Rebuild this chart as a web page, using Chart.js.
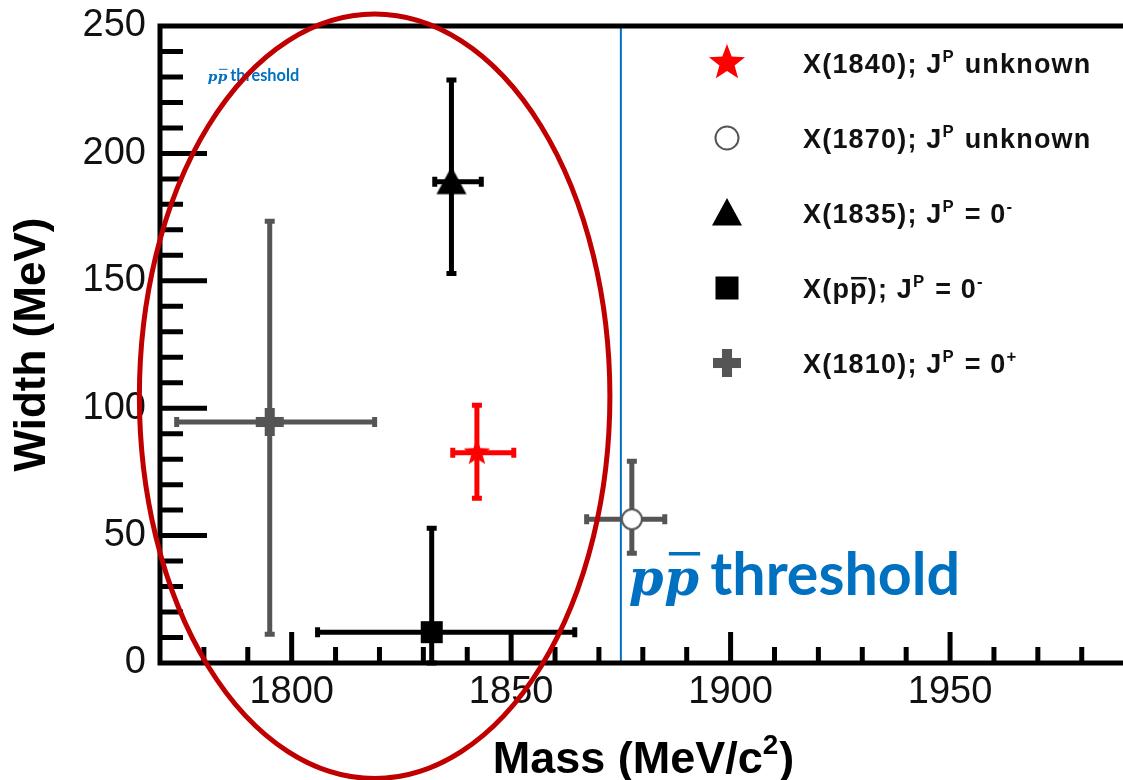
<!DOCTYPE html>
<html>
<head>
<meta charset="utf-8">
<script src="https://cdn.jsdelivr.net/npm/chart.js@4.4.1/dist/chart.umd.min.js"></script>
<style>
  html, body { margin: 0; padding: 0; background: #fff; }
  #wrap { width: 1123px; height: 780px; }
</style>
</head>
<body>
<div id="wrap"><canvas id="c" width="1123" height="780"></canvas></div>
<script>
'use strict';

/* ---- axes ---- */
var xRange      = [1770, 1989.4];
var yRange      = [0, 250];
var xTickLabels = [1800, 1850, 1900, 1950];
var yTickLabels = [0, 50, 100, 150, 200, 250];
var minorStep   = 10;

/* ---- measurements (MeV) ---- */
var mass     = [1842.2, 1877.5, 1836.4, 1831.9, 1795.0];
var massMin  = [1836.7, 1867.2, 1832.6, 1805.9, 1773.8];
var massMax  = [1850.6, 1885.0, 1843.2, 1864.5, 1818.9];
var width    = [82.5, 56.4, 188.9, 12.1, 94.6];
var widthMin = [64.7, 43.1, 152.9, 0, 11.3];
var widthMax = [101.2, 79.2, 228.8, 52.9, 173.4];

var thresholdMass = 1875;
// highlighted region (data units): centre, half-widths
var ringCenter = [1818.9, 104.7];
var ringRadius = [53.6, 150];

/* ---- text, superscripts split out ---- */
var xTitleParts = [{ t: 'Mass (MeV/c' }, { t: '2', sup: 1 }, { t: ')' }];
var legendParts = [
  [{ t: 'X(1840); J' }, { t: 'P', sup: 1 }, { t: ' unknown' }],
  [{ t: 'X(1870); J' }, { t: 'P', sup: 1 }, { t: ' unknown' }],
  [{ t: 'X(1835); J' }, { t: 'P', sup: 1 }, { t: ' = 0' }, { t: '-', sup: 1 }],
  [{ t: 'X(p' }, { t: 'p', over: 1 }, { t: '); J' }, { t: 'P', sup: 1 }, { t: ' = 0' }, { t: '-', sup: 1 }],
  [{ t: 'X(1810); J' }, { t: 'P', sup: 1 }, { t: ' = 0' }, { t: '+', sup: 1 }]
];

var seriesStyle = [
  { marker: 'star',     color: '#ff0000', size: 28, legendSize: 38 },
  { marker: 'circle',   color: '#555555', size: 22, legendSize: 25 },
  { marker: 'triangle', color: '#000000', size: 30, legendSize: 30 },
  { marker: 'square',   color: '#000000', size: 22, legendSize: 23 },
  { marker: 'plus',     color: '#555555', size: 28, legendSize: 28 }
];

var SANS = '"Liberation Sans", Arial, Helvetica, sans-serif';
var BLUE = '#0070c0';

function drawMarker(ctx, kind, x, y, s) {
  ctx.save();
  if (kind === 'star') {
    ctx.fillStyle = '#ff0000';
    ctx.beginPath();
    for (var i = 0; i < 10; i++) {
      var r = i % 2 ? s * 0.21 : s * 0.5;
      var a = -Math.PI / 2 + i * Math.PI / 5;
      if (i) ctx.lineTo(x + r * Math.cos(a), y + r * Math.sin(a));
      else ctx.moveTo(x + r * Math.cos(a), y + r * Math.sin(a));
    }
    ctx.closePath();
    ctx.fill();
  } else if (kind === 'circle') {
    ctx.fillStyle = '#fff';
    ctx.strokeStyle = '#555';
    ctx.lineWidth = 2;
    ctx.beginPath();
    ctx.arc(x, y, s / 2 - 1, 0, Math.PI * 2);
    ctx.fill();
    ctx.stroke();
  } else if (kind === 'triangle') {
    ctx.fillStyle = '#000';
    ctx.beginPath();
    ctx.moveTo(x, y - s * 0.5);
    ctx.lineTo(x + s * 0.5, y + s * 0.42);
    ctx.lineTo(x - s * 0.5, y + s * 0.42);
    ctx.closePath();
    ctx.fill();
  } else if (kind === 'square') {
    ctx.fillStyle = '#000';
    ctx.fillRect(x - s / 2, y - s / 2, s, s);
  } else if (kind === 'plus') {
    var t = s * 0.36;
    ctx.fillStyle = '#555';
    ctx.fillRect(x - s / 2, y - t / 2, s, t);
    ctx.fillRect(x - t / 2, y - s / 2, t, s);
  }
  ctx.restore();
}

function markerCanvas(kind, s) {
  var c = document.createElement('canvas');
  c.width = c.height = s + 4;
  drawMarker(c.getContext('2d'), kind, c.width / 2, c.height / 2, s);
  return c;
}

function richWidth(ctx, parts, size) {
  var w = 0;
  parts.forEach(function (p) {
    ctx.font = 'bold ' + (p.sup ? size * 0.62 : size) + 'px ' + SANS;
    w += ctx.measureText(p.t).width + (p.sup ? 1 : 0);
  });
  return w;
}

function drawRich(ctx, parts, x, y, size) {
  parts.forEach(function (p) {
    var fs = p.sup ? size * 0.62 : size;
    ctx.font = 'bold ' + fs + 'px ' + SANS;
    ctx.fillText(p.t, x, p.sup ? y - size * 0.42 : y);
    var w = ctx.measureText(p.t).width;
    if (p.over) ctx.fillRect(x + 1, y - size * 0.78, w - 2, 2.5);
    x += w + (p.sup ? 1 : 0);
  });
}

// "pp̄ threshold" note, scaled so that the word "threshold" spans thrW px
function drawThresholdNote(ctx, x, y, thrW) {
  ctx.save();
  ctx.fillStyle = BLUE;
  ctx.strokeStyle = BLUE;
  ctx.textBaseline = 'alphabetic';
  ctx.font = 'bold 50px Lato, ' + SANS;
  var fs = 50 * thrW / ctx.measureText('threshold').width;
  ctx.font = 'italic bold ' + fs * 0.84 + 'px "DejaVu Serif", "Liberation Serif", serif';
  var pw = ctx.measureText('p').width;
  ctx.fillText('p', x, y);
  ctx.fillText('p', x + pw * 1.02, y);
  ctx.lineWidth = Math.max(1, fs * 0.06);
  ctx.beginPath();
  ctx.moveTo(x + pw * 1.15, y - fs * 0.7);
  ctx.lineTo(x + pw * 2.05, y - fs * 0.7);
  ctx.stroke();
  ctx.font = 'bold ' + fs + 'px Lato, ' + SANS;
  ctx.fillText('threshold', x + pw * 2.0 + fs * 0.2, y);
  ctx.restore();
}

var framePlugin = {
  id: 'frame',
  beforeDatasetsDraw: function (chart) {
    var ctx = chart.ctx, a = chart.chartArea;
    var xs = chart.scales.x, ys = chart.scales.y;
    ctx.save();

    // threshold line
    var tx = xs.getPixelForValue(thresholdMass);
    ctx.strokeStyle = BLUE;
    ctx.lineWidth = 2;
    ctx.beginPath();
    ctx.moveTo(tx, a.top);
    ctx.lineTo(tx, a.bottom);
    ctx.stroke();

    // frame: left, bottom, top
    ctx.strokeStyle = '#000';
    ctx.lineWidth = 5;
    ctx.lineCap = 'square';
    ctx.beginPath();
    ctx.moveTo(a.right + 5, a.top);
    ctx.lineTo(a.left, a.top);
    ctx.lineTo(a.left, a.bottom);
    ctx.lineTo(a.right + 5, a.bottom);
    ctx.stroke();

    // inward ticks
    ctx.lineCap = 'butt';
    ctx.beginPath();
    var v, p, major;
    for (v = Math.ceil(xRange[0] / minorStep) * minorStep; v <= xRange[1]; v += minorStep) {
      if (v === xRange[0]) continue;
      major = xTickLabels.indexOf(v) >= 0;
      p = xs.getPixelForValue(v);
      ctx.moveTo(p, a.bottom);
      ctx.lineTo(p, a.bottom - (major ? 31 : 16));
    }
    for (v = yRange[0] + minorStep; v < yRange[1]; v += minorStep) {
      major = yTickLabels.indexOf(v) >= 0;
      p = ys.getPixelForValue(v);
      ctx.moveTo(a.left, p);
      ctx.lineTo(a.left + (major ? 47 : 23), p);
    }
    ctx.stroke();

    // error bars
    ctx.lineWidth = 5;
    mass.forEach(function (m, i) {
      var px = xs.getPixelForValue(m), py = ys.getPixelForValue(width[i]);
      var x0 = xs.getPixelForValue(massMin[i]), x1 = xs.getPixelForValue(massMax[i]);
      var y0 = ys.getPixelForValue(widthMin[i]), y1 = ys.getPixelForValue(widthMax[i]);
      var cap = 5;
      ctx.strokeStyle = seriesStyle[i].color;
      ctx.beginPath();
      ctx.moveTo(x0, py); ctx.lineTo(x1, py);
      ctx.moveTo(px, y0); ctx.lineTo(px, y1);
      ctx.moveTo(x0, py - cap); ctx.lineTo(x0, py + cap);
      ctx.moveTo(x1, py - cap); ctx.lineTo(x1, py + cap);
      ctx.moveTo(px - cap, y0); ctx.lineTo(px + cap, y0);
      ctx.moveTo(px - cap, y1); ctx.lineTo(px + cap, y1);
      ctx.stroke();
    });
    ctx.restore();
  },
  afterDraw: function (chart) {
    var ctx = chart.ctx, a = chart.chartArea;
    var xs = chart.scales.x, ys = chart.scales.y;
    ctx.save();
    ctx.textBaseline = 'alphabetic';

    // x-axis title with a real superscript
    ctx.fillStyle = '#000';
    var tw = richWidth(ctx, xTitleParts, 45);
    drawRich(ctx, xTitleParts, (a.left + a.right) / 2 - tw / 2 + 2, 773, 45);

    // legend
    ctx.fillStyle = '#111';
    try { ctx.letterSpacing = '1.2px'; } catch (e) {}
    legendParts.forEach(function (parts, i) {
      var cy = 63 + i * 75;
      drawMarker(ctx, seriesStyle[i].marker, 727, cy, seriesStyle[i].legendSize);
      drawRich(ctx, parts, 803, cy + 10, 27);
    });
    try { ctx.letterSpacing = '0px'; } catch (e) {}

    // threshold notes
    drawThresholdNote(ctx, xs.getPixelForValue(thresholdMass) + 8, ys.getPixelForValue(26.6), 250);
    drawThresholdNote(ctx, xs.getPixelForValue(1780.9), ys.getPixelForValue(228.5), 69);

    // highlight ring
    ctx.strokeStyle = '#c00000';
    ctx.lineWidth = 5;
    var cx = xs.getPixelForValue(ringCenter[0]), cy0 = ys.getPixelForValue(ringCenter[1]);
    var rx = Math.abs(xs.getPixelForValue(ringCenter[0] + ringRadius[0]) - cx);
    var ry = Math.abs(ys.getPixelForValue(ringCenter[1] + ringRadius[1]) - cy0);
    ctx.beginPath();
    ctx.ellipse(cx, cy0, rx, ry, 0, 0, Math.PI * 2);
    ctx.stroke();
    ctx.restore();
  }
};

Chart.defaults.font.family = SANS;

function plainTick(v) { return String(v); }

new Chart(document.getElementById('c').getContext('2d'), {
  type: 'scatter',
  data: {
    datasets: mass.map(function (m, i) {
      return {
        data: [{ x: m, y: width[i] }],
        pointStyle: markerCanvas(seriesStyle[i].marker, seriesStyle[i].size),
        pointRadius: seriesStyle[i].size / 2,
        pointHoverRadius: seriesStyle[i].size / 2
      };
    })
  },
  options: {
    responsive: false,
    devicePixelRatio: 1,
    animation: false,
    events: [],
    layout: { autoPadding: false, padding: { top: 26, right: 0, left: 0, bottom: 0 } },
    plugins: { legend: { display: false }, tooltip: { enabled: false } },
    scales: {
      x: {
        type: 'linear', min: xRange[0], max: xRange[1],
        grid: { display: false, drawTicks: false },
        border: { display: false },
        afterBuildTicks: function (s) { s.ticks = xTickLabels.map(function (v) { return { value: v }; }); },
        afterFit: function (s) {
          s.height = 117;
          s.paddingLeft = s.paddingRight = s.paddingTop = s.paddingBottom = 0;
        },
        ticks: { font: { size: 38 }, color: '#111', padding: 7, callback: plainTick },
        title: { display: false }
      },
      y: {
        min: yRange[0], max: yRange[1],
        grid: { display: false, drawTicks: false },
        border: { display: false },
        afterBuildTicks: function (s) { s.ticks = yTickLabels.map(function (v) { return { value: v }; }); },
        afterFit: function (s) {
          s.width = 160;
          s.paddingLeft = s.paddingRight = s.paddingTop = s.paddingBottom = 0;
        },
        ticks: { font: { size: 38 }, color: '#111', padding: 14, callback: plainTick },
        title: {
          display: true, text: 'Width (MeV)', color: '#000',
          font: { size: 44, weight: 'bold' }, padding: { top: 6, bottom: 0 }
        }
      }
    }
  },
  plugins: [framePlugin]
});
</script>
</body>
</html>
